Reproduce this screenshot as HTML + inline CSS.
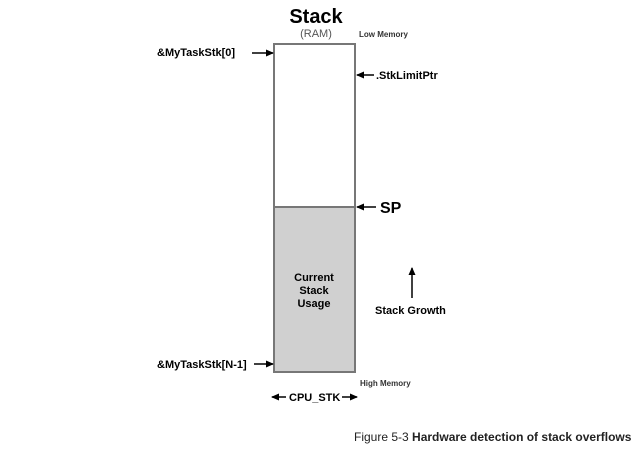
<!DOCTYPE html>
<html><head><style>html,body{margin:0;padding:0;background:#fff;}svg{display:block}</style></head>
<body>
<svg width="640" height="453" viewBox="0 0 640 453" xmlns="http://www.w3.org/2000/svg" font-family="Liberation Sans, Arial, sans-serif">
<defs>
<marker id="ah" markerWidth="8" markerHeight="8" refX="7" refY="4" orient="auto" markerUnits="userSpaceOnUse">
<path d="M0,0.5 L8,4 L0,7.5 Z" fill="#000"/></marker>
</defs>
<rect width="640" height="453" fill="#fff"/>
<rect x="274" y="44" width="81" height="163" fill="#fff" stroke="#777" stroke-width="2"/>
<rect x="274" y="207" width="81" height="165" fill="#d0d0d0" stroke="#777" stroke-width="2"/>
<text x="316" y="23" font-size="20" font-weight="bold" text-anchor="middle">Stack</text>
<text x="316" y="37" font-size="11" fill="#555" text-anchor="middle">(RAM)</text>
<text x="359" y="37" font-size="8" font-weight="bold" fill="#333">Low Memory</text>
<text x="157" y="56" font-size="11" font-weight="bold">&amp;MyTaskStk[0]</text>
<line x1="252" y1="53" x2="273" y2="53" stroke="#000" stroke-width="1.5" marker-end="url(#ah)"/>
<line x1="374" y1="75" x2="357" y2="75" stroke="#000" stroke-width="1.5" marker-end="url(#ah)"/>
<text x="376" y="79" font-size="11" font-weight="bold">.StkLimitPtr</text>
<line x1="376" y1="207" x2="357" y2="207" stroke="#000" stroke-width="1.5" marker-end="url(#ah)"/>
<text x="380" y="213" font-size="16" font-weight="bold">SP</text>
<text x="314" y="281" font-size="11" font-weight="bold" text-anchor="middle">Current</text>
<text x="314" y="294" font-size="11" font-weight="bold" text-anchor="middle">Stack</text>
<text x="314" y="307" font-size="11" font-weight="bold" text-anchor="middle">Usage</text>
<line x1="412" y1="298" x2="412" y2="268" stroke="#000" stroke-width="1.5" marker-end="url(#ah)"/>
<text x="375" y="314" font-size="11" font-weight="bold">Stack Growth</text>
<text x="157" y="368" font-size="11" font-weight="bold">&amp;MyTaskStk[N-1]</text>
<line x1="254" y1="364" x2="273" y2="364" stroke="#000" stroke-width="1.5" marker-end="url(#ah)"/>
<text x="360" y="386" font-size="8" font-weight="bold" fill="#333">High Memory</text>
<line x1="286" y1="397" x2="272" y2="397" stroke="#000" stroke-width="1.5" marker-end="url(#ah)"/>
<text x="289" y="401" font-size="11" font-weight="bold">CPU_STK</text>
<line x1="342" y1="397" x2="357" y2="397" stroke="#000" stroke-width="1.5" marker-end="url(#ah)"/>
<text x="354" y="441" font-size="12" fill="#222">Figure 5-3 <tspan font-weight="bold">Hardware detection of stack overflows</tspan></text>
</svg>
</body></html>
